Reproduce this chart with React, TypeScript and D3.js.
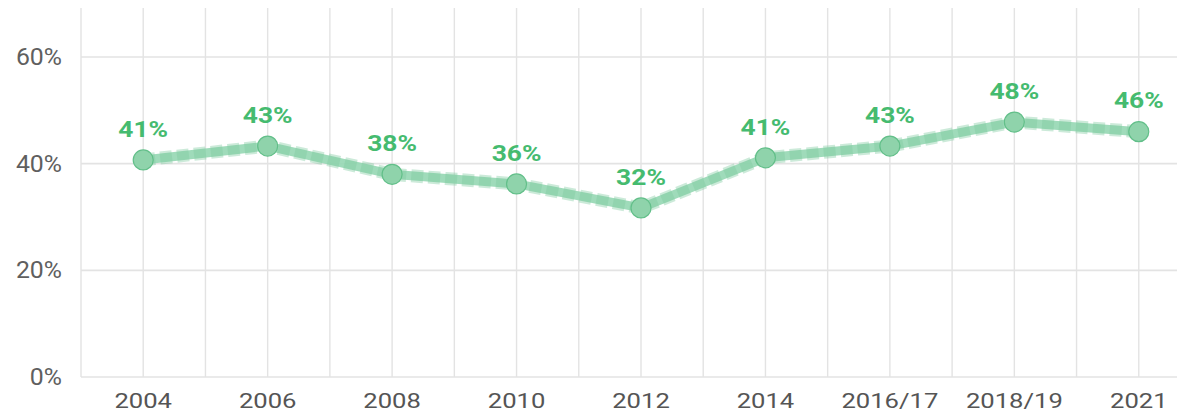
import React from 'react';
import * as d3 from 'd3';

const categories = ['2004', '2006', '2008', '2010', '2012', '2014', '2016/17', '2018/19', '2021'];
const values = [40.7, 43.3, 38.0, 36.2, 31.7, 41.1, 43.3, 47.8, 46.0];
const labels = ['41%', '43%', '38%', '36%', '32%', '41%', '43%', '48%', '46%'];
const yTicks = [0, 20, 40, 60];

const width = 1177;
const height = 416;
const margin = { top: 8, right: -24, bottom: 39, left: 81 };

export default function App() {
  const x = d3
    .scaleBand<string>()
    .domain(categories)
    .range([margin.left, width - margin.right])
    .paddingInner(0)
    .paddingOuter(0);

  const y = d3
    .scaleLinear()
    .domain([0, 60])
    .range([height - margin.bottom, 57]);

  const cx = (c: string) => (x(c) || 0) + x.bandwidth() / 2;

  const pts = categories.map((c, i) => ({ c, v: values[i], l: labels[i] }));

  const line = d3
    .line<{ c: string; v: number }>()
    .x((d) => cx(d.c))
    .y((d) => y(d.v));

  const vLines: number[] = [];
  categories.forEach((c) => {
    vLines.push(x(c) || 0);
    vLines.push(cx(c));
  });
  vLines.push(width - margin.right);

  const font = 'Roboto, "Noto Sans", sans-serif';

  return (
    <svg
      width={width}
      height={height}
      viewBox={`0 0 ${width} ${height}`}
      style={{ position: 'absolute', left: 0, top: 0, display: 'block' }}
    >
      <rect width={width} height={height} fill='#ffffff' />
      {vLines.map((vx, i) => (
        <line
          key={'v' + i}
          x1={vx}
          x2={vx}
          y1={margin.top}
          y2={y(0)}
          stroke='#e3e3e3'
          strokeWidth={1.4}
        />
      ))}
      {yTicks.map((t) => (
        <g key={'y' + t}>
          <line
            x1={margin.left}
            x2={width}
            y1={y(t)}
            y2={y(t)}
            stroke='#e3e3e3'
            strokeWidth={1.6}
          />
          <text
            transform={`translate(62,${y(t)}) scale(1.08,1)`}
            dy='0.35em'
            textAnchor='end'
            fontFamily={font}
            fontSize={23}
            fill='#5f5f5f'
          >
            {t}%
          </text>
        </g>
      ))}
      {categories.map((c) => (
        <text
          key={'x' + c}
          transform={`translate(${cx(c)},408) scale(1.22,1)`}
          textAnchor='middle'
          fontFamily={font}
          fontSize={21}
          fill='#555555'
        >
          {c}
        </text>
      ))}
      <path
        d={line(pts) || ''}
        fill='none'
        stroke='#95d7b2'
        strokeWidth={9}
        strokeLinejoin='round'
        strokeLinecap='round'
        opacity={0.9}
      />
      <path
        d={line(pts) || ''}
        fill='none'
        stroke='#7fcb9f'
        strokeWidth={13}
        strokeDasharray='12 5'
        strokeLinejoin='round'
        opacity={0.4}
      />
      {pts.map((p) => (
        <circle
          key={'c' + p.c}
          cx={cx(p.c)}
          cy={y(p.v)}
          r={10}
          fill='#8fd3ab'
          stroke='#62bf89'
          strokeWidth={1.2}
        />
      ))}
      {pts.map((p) => (
        <text
          key={'l' + p.c}
          transform={`translate(${cx(p.c)},${y(p.v) - 31}) scale(1.2,1)`}
          dy='0.35em'
          textAnchor='middle'
          fontFamily={font}
          fontSize={22}
          fontWeight='bold'
          fill='#45bb6f'
        >
          {p.l}
        </text>
      ))}
    </svg>
  );
}
